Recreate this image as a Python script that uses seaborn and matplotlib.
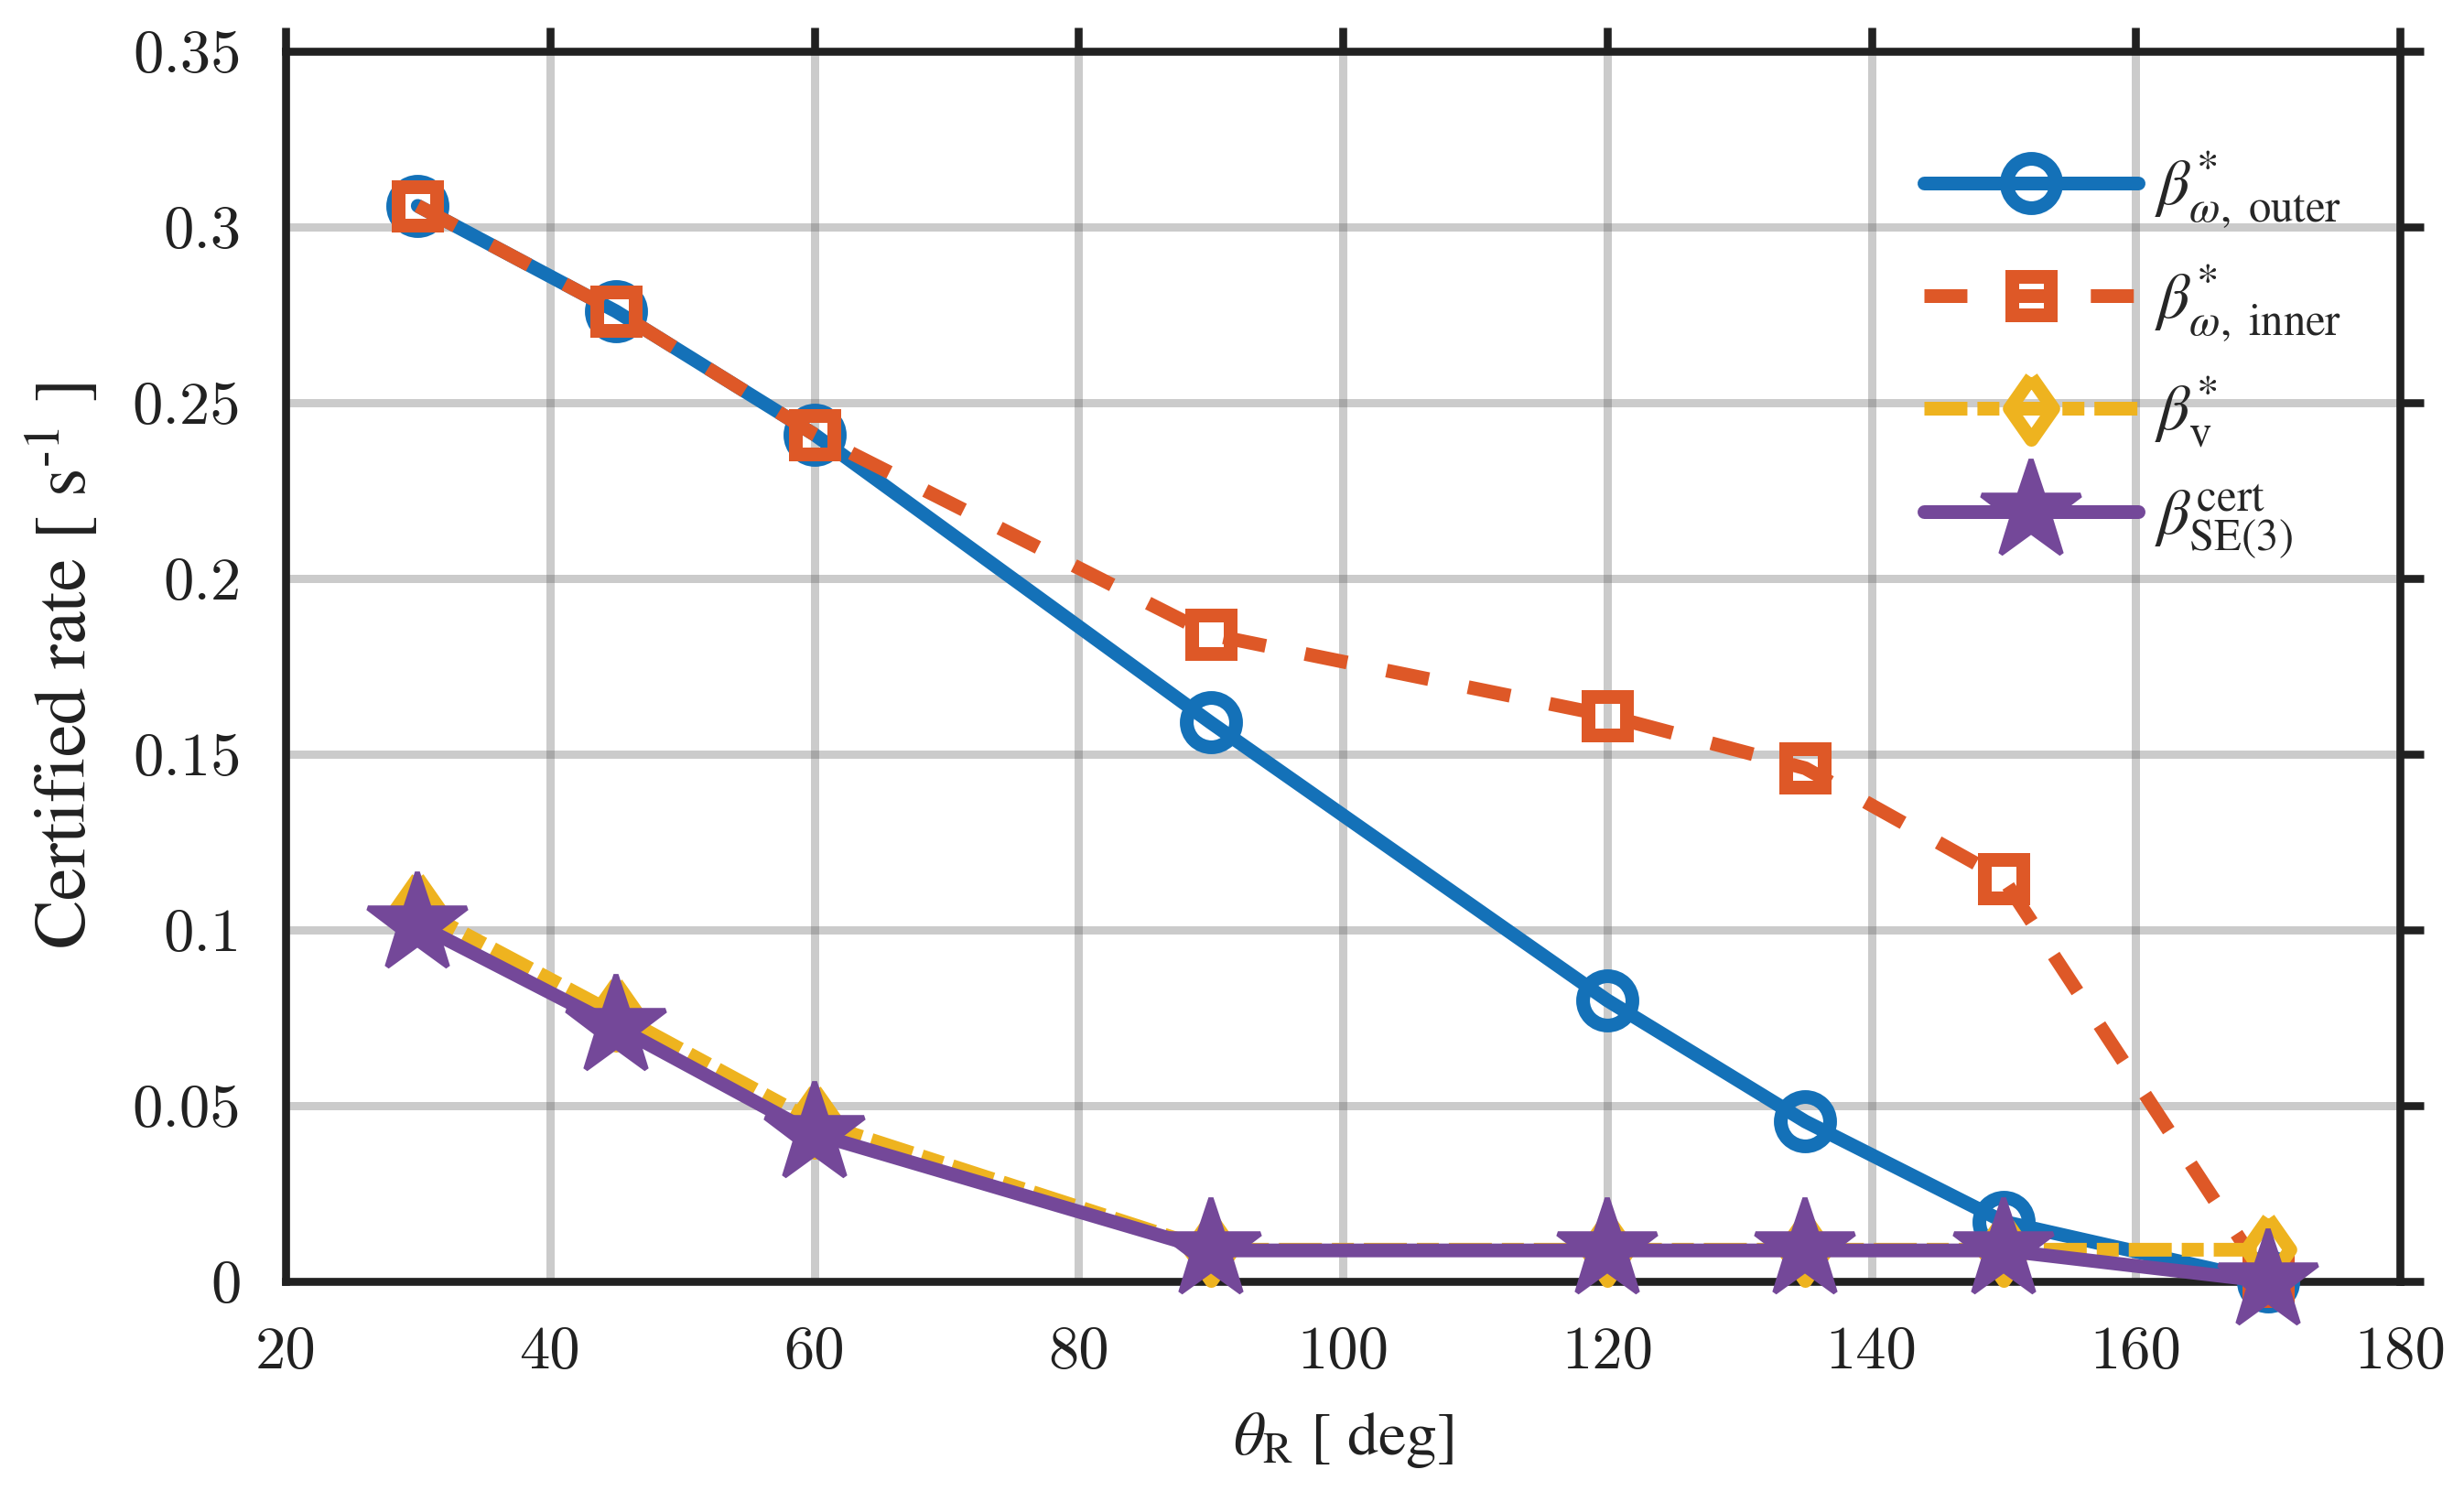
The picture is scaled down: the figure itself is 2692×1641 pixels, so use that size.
import matplotlib
matplotlib.use('Agg')
import matplotlib.pyplot as plt
import seaborn as sns
import pandas as pd
from matplotlib.markers import MarkerStyle

# valores
theta = [30, 45, 60, 90, 120, 135, 150, 170]
beta_outer = [0.306, 0.276, 0.241, 0.159, 0.080, 0.0455, 0.017, 0.0]
beta_inner = [0.306, 0.276, 0.241, 0.184, 0.161, 0.146, 0.1145, 0.0]
beta_v = [0.106, 0.076, 0.0455, 0.009, 0.009, 0.009, 0.009, 0.009]
beta_se3 = [0.1015, 0.0725, 0.042, 0.0088, 0.0088, 0.0088, 0.0088, 0.0]

xticks = [20, 40, 60, 80, 100, 120, 140, 160, 180]
yticks = [0, 0.05, 0.1, 0.15, 0.2, 0.25, 0.3, 0.35]
ytick_labels = ['0', '0.05', '0.1', '0.15', '0.2', '0.25', '0.3', '0.35']
xtick_labels = [str(v) for v in xticks]

labels = [r'$\beta^{*}_{\omega,\ \mathrm{outer}}$',
          r'$\beta^{*}_{\omega,\ \mathrm{inner}}$',
          r'$\beta^{*}_{\mathrm{v}}$',
          r'$\beta^{\mathrm{cert}}_{\mathrm{SE(3)}}$']

df = pd.DataFrame({'theta': theta, 'outer': beta_outer, 'inner': beta_inner,
                   'v': beta_v, 'se3': beta_se3})

sns.set_style('white')
plt.rcParams['mathtext.fontset'] = 'stix'
plt.rcParams['font.family'] = ['STIXGeneral', 'DejaVu Sans']

cor_azul = '#1471B8'
cor_laranja = '#DE5827'
cor_amarelo = '#EEB31F'
cor_roxo = '#744899'
cor_eixo = '#212121'
lw = 5.4

fig = plt.figure(figsize=(13.46, 8.205), dpi=200)
ax = fig.add_axes([0.1159, 0.1469, 0.8581, 0.8190])

diamante = MarkerStyle([(0, 1), (0.7, 0), (0, -1), (-0.7, 0), (0, 1)], joinstyle='miter')

sns.lineplot(data=df, x='theta', y='outer', ax=ax, color=cor_azul, lw=lw,
             marker='o', ms=19.4, mew=lw, mec=cor_azul, mfc='none',
             label=labels[0], clip_on=False, zorder=3)
sns.lineplot(data=df, x='theta', y='inner', ax=ax, color=cor_laranja, lw=lw,
             linestyle=(0, (3.13, 2.93)),
             marker='s', ms=15, mew=lw, mec=cor_laranja, mfc='none',
             label=labels[1], clip_on=False, zorder=3)
sns.lineplot(data=df, x='theta', y='v', ax=ax, color=cor_amarelo, lw=lw,
             linestyle=(0, (3.13, 0.73, 1.6, 0.73)),
             marker=diamante, ms=24.5, mew=lw, mec=cor_amarelo, mfc='none',
             label=labels[2], clip_on=False, zorder=3)
sns.lineplot(data=df, x='theta', y='se3', ax=ax, color=cor_roxo, lw=lw,
             marker='*', ms=41, mew=2, mec=cor_roxo, mfc=cor_roxo,
             label=labels[3], clip_on=False, zorder=3)

ax.set_xlim(20, 180)
ax.set_ylim(0, 0.35)
ax.set_xticks(xticks, xtick_labels)
ax.set_yticks(yticks, ytick_labels)
for lab in ax.get_xticklabels() + ax.get_yticklabels():
    lab.set_fontfamily('cmr10')
    lab.set_fontsize(24)
    lab.set_color(cor_eixo)

ax.grid(True, color='#555555', alpha=0.3, lw=3.24)
ax.set_axisbelow(True)
ax.tick_params(direction='out', length=9.5, width=3.1, color=cor_eixo,
               top=True, right=True, pad=8)
for s in ax.spines.values():
    s.set_linewidth(3.1)
    s.set_color(cor_eixo)
    s.set_visible(True)

ax.set_xlabel(r'$\theta_{\mathrm{R}}$ [ deg]', fontsize=24.5, color=cor_eixo, va='top')
ax.set_ylabel('Certified rate [ s$^{\\mathrm{\u2010}1}$ ]', fontsize=29, color=cor_eixo)
ax.xaxis.set_label_coords(0.5, -0.105)
ax.yaxis.set_label_coords(-0.0866, 0.5)

ax.legend(loc='upper left', bbox_to_anchor=(0.775, 0.92), frameon=False,
          fontsize=25, handlelength=3.36, handletextpad=0.26, labelspacing=0.51,
          borderpad=0, borderaxespad=0)

fig.savefig('out.png', dpi=200)
